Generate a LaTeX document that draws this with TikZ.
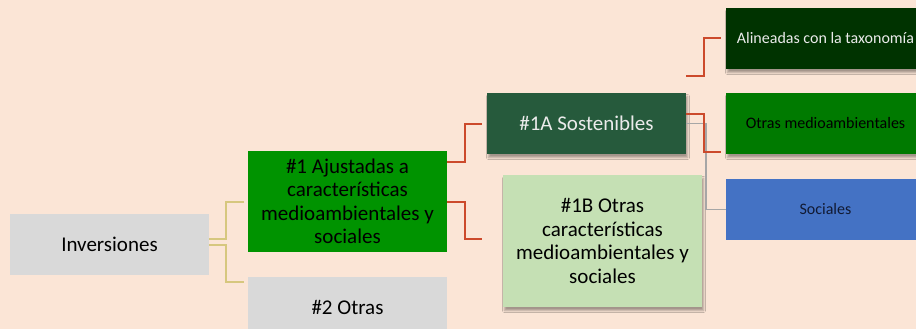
\documentclass[tikz,border=0pt]{standalone}
\usepackage{fontspec}
\setmainfont{Carlito}
\usetikzlibrary{calc,shadows.blur}
\definecolor{bg}{HTML}{FBE5D6}
\definecolor{greyfill}{HTML}{D9D9D9}
\definecolor{greenA}{HTML}{009300}
\definecolor{darkA}{HTML}{265A3C}
\definecolor{lightB}{HTML}{C5E0B4}
\definecolor{darkest}{HTML}{003300}
\definecolor{midgreen}{HTML}{007A00}
\definecolor{blueS}{HTML}{4472C4}
\definecolor{redline}{HTML}{CC4A2C}
\definecolor{tanline}{HTML}{D6C77E}
\definecolor{greyline}{HTML}{A6A6A6}
\definecolor{navytext}{HTML}{111A33}
\tikzset{
  box/.style={draw=none, minimum width=199pt, minimum height=61pt, inner sep=0pt, outer sep=0pt, align=center, anchor=north west},
  big/.style={font=\fontsize{21}{23.5}\selectfont},
  small/.style={font=\fontsize{16}{19}\selectfont},
  shade/.style={blur shadow={shadow xshift=1.5pt,shadow yshift=-3.5pt,shadow blur radius=2pt,shadow opacity=35}},
  redc/.style={draw=redline, line width=2pt},
  tanc/.style={draw=tanline, line width=1.6pt},
  greyc/.style={draw=greyline, line width=1.6pt}
}
\begin{document}
\begin{tikzpicture}[x=1pt,y=-1pt]
\path[use as bounding box, fill=bg] (0,0) rectangle (916,329);
\begin{scope}
\clip (0,0) rectangle (916,329);
% nodes
\node[box, big, fill=greyfill, text=black] (inv) at (10,214) {Inversiones};
\node[box, big, fill=greenA, text=black, minimum height=101pt] (n1) at (248,151) {\#1 Ajustadas a\\características\\medioambientales y\\sociales};
\node[box, big, fill=greyfill, text=black] (n2) at (248,277) {\#2 Otras};
\node[box, big, fill=darkA, text=white!92!black, shade] (n1A) at (487,93) {\#1A Sostenibles};
\node[box, big, fill=lightB, text=black, minimum height=132pt, shade] (n1B) at (503,175) {\#1B Otras\\características\\medioambientales y\\sociales};
\node[box, small, fill=darkest, text=white!92!black, shade] (al) at (726,8) {Alineadas con la taxonomía};
\node[box, small, fill=midgreen, text=black, shade] (om) at (726,93) {Otras medioambientales};
\node[box, small, fill=blueS, text=navytext] (so) at (726,179) {Sociales};
% connectors
\draw[tanc] ($(inv.east)+(0,-5.5)$) -- ++(17,0) |- ($(n1.west)+(-4,0.5)$);
\draw[tanc] ($(inv.east)+(0,0.5)$) -- ++(17,0) |- ($(n2.north west)+(-4,5)$);
\draw[redc] ($(n1.north east)+(0,11)$) -- ++(18,0) |- ($(n1A.west)+(-5,0.5)$);
\draw[redc] ($(n1.east)+(0,0.5)$) -- ++(18,0) |- ($(n1B.north west)+(-21,64)$);
\draw[greyc] (n1A.east) -- ++(20,0) |- ($(so.west)+(0,0)$);
\draw[redc] ($(n1A.north east)+(0,-17)$) -- ++(18,0) |- ($(al.west)+(-5,0)$);
\draw[redc] ($(n1A.east)+(0,-9.5)$) -- ++(18,0) |- ($(om.south west)+(-5,-2)$);
\end{scope}
\end{tikzpicture}
\end{document}
